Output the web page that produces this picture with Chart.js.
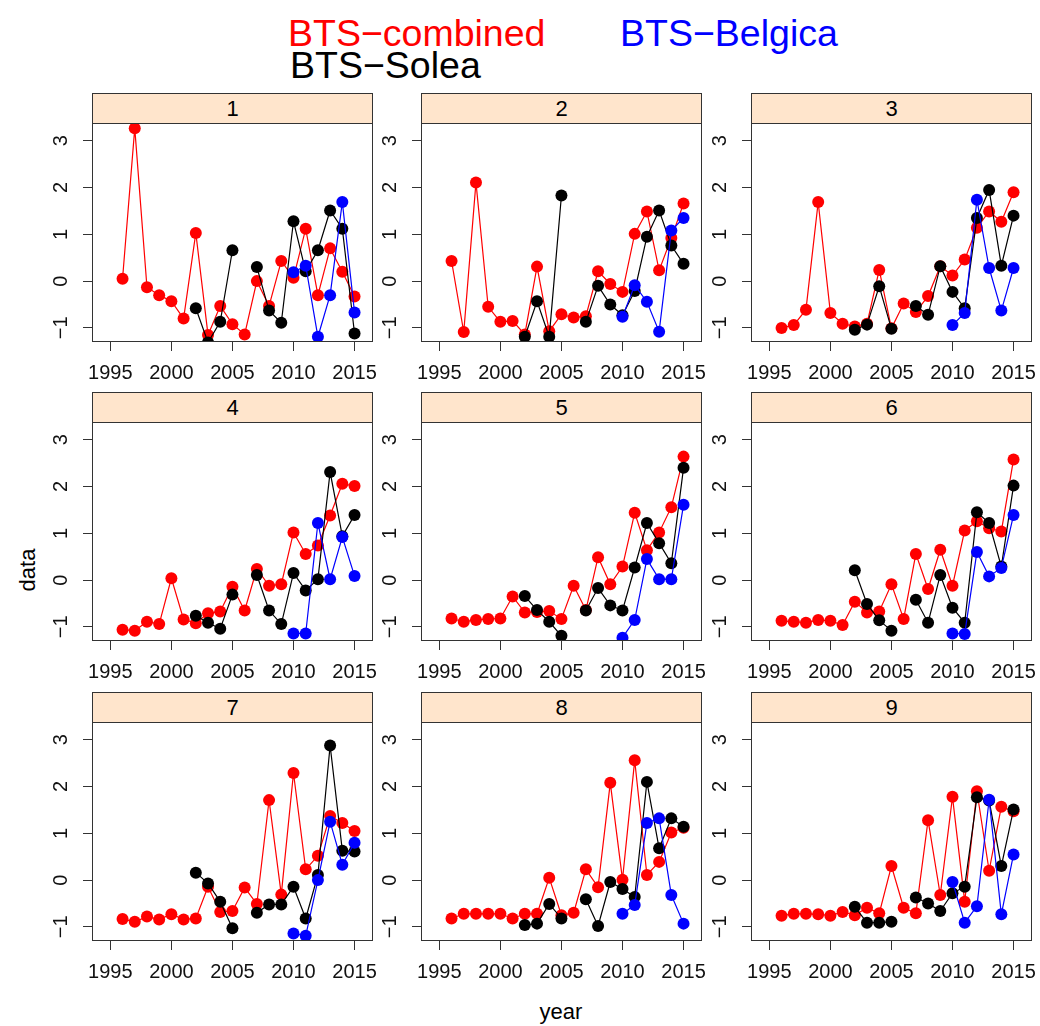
<!DOCTYPE html>
<html>
<head>
<meta charset="utf-8">
<script src="https://cdn.jsdelivr.net/npm/chart.js@4.4.1/dist/chart.umd.min.js"></script>
<style>
  html, body { margin: 0; padding: 0; background: #ffffff; }
  body { width: 1040px; height: 1026px; position: relative; overflow: hidden;
         font-family: "Liberation Sans", Arial, sans-serif; }
  .leg { position: absolute; font-size: 37.5px; line-height: 37px; white-space: nowrap; }
  .strip { position: absolute; box-sizing: border-box; background: #ffe5cc;
           border: 1px solid #333; font-size: 22px; color: #000;
           display: flex; align-items: center; justify-content: center; }
  .axt { position: absolute; font-size: 22px; color: #000; white-space: nowrap; }
  canvas { position: absolute; }
</style>
</head>
<body>
<script>
// Survey areas, one panel each
const areas = ['1', '2', '3', '4', '5', '6', '7', '8', '9'];

// Years covered by each survey series
const years = [1996, 1997, 1998, 1999, 2000, 2001, 2002, 2003, 2004, 2005,
               2006, 2007, 2008, 2009, 2010, 2011, 2012, 2013, 2014, 2015];
const soleaYears = [2002, 2003, 2004, 2005, 2006, 2007, 2008, 2009, 2010, 2011, 2012, 2013, 2014, 2015];
const belgicaYears = [2010, 2011, 2012, 2013, 2014, 2015];

// BTS-combined index per area (1996-2015)
const combined = [
  [0.05, 3.27, -0.13, -0.30, -0.43, -0.80, 1.03, -1.15, -0.53, -0.92, -1.14, 0.00, -0.53, 0.43, 0.07, 1.12, -0.30, 0.70, 0.20, -0.33],
  [0.43, -1.09, 2.11, -0.55, -0.87, -0.85, -1.14, 0.31, -1.07, -0.71, -0.78, -0.75, 0.21, -0.06, -0.23, 1.01, 1.49, 0.23, 0.92, 1.66],
  [-1.00, -0.94, -0.61, 1.69, -0.68, -0.91, -0.97, -0.91, 0.24, -1.01, -0.48, -0.66, -0.32, 0.32, 0.12, 0.46, 1.14, 1.49, 1.27, 1.90],
  [-1.06, -1.08, -0.89, -0.94, 0.04, -0.84, -0.92, -0.71, -0.67, -0.14, -0.65, 0.24, -0.12, -0.09, 1.02, 0.56, 0.74, 1.38, 2.06, 2.01],
  [-0.82, -0.89, -0.85, -0.83, -0.82, -0.35, -0.69, -0.68, -0.66, -0.83, -0.12, -0.64, 0.49, -0.09, 0.29, 1.44, 0.64, 1.02, 1.56, 2.64],
  [-0.87, -0.89, -0.91, -0.85, -0.87, -0.96, -0.46, -0.69, -0.67, -0.09, -0.83, 0.56, -0.19, 0.65, -0.12, 1.06, 1.26, 1.11, 1.04, 2.58],
  [-0.83, -0.89, -0.78, -0.84, -0.73, -0.84, -0.82, -0.14, -0.68, -0.66, -0.16, -0.51, 1.71, -0.31, 2.29, 0.23, 0.52, 1.37, 1.22, 1.05],
  [-0.82, -0.72, -0.72, -0.72, -0.72, -0.82, -0.72, -0.72, 0.05, -0.75, -0.70, 0.23, -0.15, 2.08, 0.01, 2.56, 0.11, 0.39, 1.02, 1.12],
  [-0.76, -0.72, -0.72, -0.73, -0.76, -0.68, -0.75, -0.59, -0.71, 0.30, -0.59, -0.71, 1.28, -0.32, 1.78, -0.46, 1.90, 0.20, 1.57, 1.47]
];

// BTS-Solea index per area (2002-2015, no survey in 2006)
const solea = [
  [-0.58, -1.31, -0.87, 0.66, null, 0.30, -0.63, -0.89, 1.28, 0.21, 0.66, 1.51, 1.12, -1.12],
  [-1.19, -0.43, -1.19, 1.83, null, -0.87, -0.10, -0.50, -0.73, -0.21, 0.95, 1.51, 0.76, 0.37],
  [-1.04, -0.93, -0.11, -1.02, null, -0.53, -0.72, 0.32, -0.23, -0.58, 1.35, 1.95, 0.33, 1.40],
  [-0.76, -0.91, -1.04, -0.31, null, 0.11, -0.65, -0.94, 0.15, -0.22, 0.02, 2.31, 0.94, 1.39],
  [-0.34, -0.64, -0.89, -1.19, null, -0.65, -0.17, -0.54, -0.65, 0.27, 1.22, 0.79, 0.36, 2.40],
  [0.21, -0.51, -0.86, -1.08, null, -0.42, -0.91, 0.11, -0.59, -0.91, 1.45, 1.22, 0.29, 2.02],
  [0.16, -0.07, -0.46, -1.03, null, -0.70, -0.52, -0.52, -0.14, -0.82, 0.11, 2.88, 0.63, 0.61],
  [-0.96, -0.93, -0.51, -0.82, null, -0.41, -0.98, -0.04, -0.19, -0.36, 2.10, 0.68, 1.32, 1.14],
  [-0.57, -0.91, -0.91, -0.89, null, -0.37, -0.50, -0.66, -0.28, -0.14, 1.77, 1.70, 0.30, 1.51]
];

// BTS-Belgica index per area (2010-2015)
const belgica = [
  [0.19, 0.33, -1.19, -0.30, 1.69, -0.67],
  [-0.76, -0.09, -0.44, -1.08, 1.08, 1.35],
  [-0.94, -0.68, 1.74, 0.28, -0.63, 0.28],
  [-1.14, -1.14, 1.22, 0.02, 0.92, 0.09],
  [-1.23, -0.85, 0.45, 0.02, 0.02, 1.61],
  [-1.14, -1.15, 0.60, 0.08, 0.26, 1.39],
  [-1.14, -1.19, 0.00, 1.25, 0.33, 0.80],
  [-0.72, -0.53, 1.22, 1.32, -0.32, -0.93],
  [-0.04, -0.91, -0.56, 1.72, -0.73, 0.55]
];

// Tick labels
const xTickValues = [1995, 2000, 2005, 2010, 2015];
const yTickValues = [-1, 0, 1, 2, 3];

// Series names and colours
const seriesNames = ['BTS\u2212combined', 'BTS\u2212Belgica', 'BTS\u2212Solea'];
const seriesColors = ['#ff0000', '#0000ff', '#000000'];

// ---- page layout ----
const colLeft = [93, 422, 752];
const rowTop = [123, 422, 722];
const plotW = 279, plotH = 218, stripH = 30;
const padL = 70, padT = 10, padR = 30, padB = 55;
const lineCol = '#333333';
const fontFamily = '"Liberation Sans", Arial, sans-serif';

function addText(cls, text, css) {
  const d = document.createElement('div');
  d.className = cls;
  d.textContent = text;
  Object.assign(d.style, css);
  document.body.appendChild(d);
  return d;
}

// Key above the panels
addText('leg', seriesNames[0], { left: '288px', top: '15px', color: seriesColors[0] });
addText('leg', seriesNames[1], { left: '620px', top: '15px', color: seriesColors[1] });
addText('leg', seriesNames[2], { left: '290px', top: '47px', color: seriesColors[2] });

// Shared axis titles
addText('axt', 'data', { left: '28px', top: '570px', transform: 'translate(-50%,-50%) rotate(-90deg)' });
addText('axt', 'year', { left: '561px', top: '1012px', transform: 'translate(-50%,-50%)' });

// Border round each plotting region
const framePlugin = {
  id: 'frame',
  afterDraw(chart) {
    const a = chart.chartArea, c = chart.ctx;
    c.save();
    c.strokeStyle = lineCol;
    c.lineWidth = 1;
    c.strokeRect(a.left - 0.5, a.top - 0.5, a.right - a.left + 1, a.bottom - a.top + 1);
    c.restore();
  }
};

function fmtMinus(v) { return v < 0 ? '\u2212' + Math.abs(v) : String(v); }

// Fix an axis' thickness and drop the label overhang padding so every panel lines up
function fixAxis(size, horizontal) {
  return s => {
    if (horizontal) s.height = size; else s.width = size;
    s.paddingTop = 0; s.paddingBottom = 0; s.paddingLeft = 0; s.paddingRight = 0;
  };
}

function series(xs, ys, label, color) {
  return {
    label: label,
    data: xs.map((x, j) => ({ x: x, y: ys[j] })),
    borderColor: color,
    backgroundColor: color,
    borderWidth: 1.2,
    pointRadius: 6,
    pointHoverRadius: 6,
    pointBorderWidth: 0,
    pointBackgroundColor: color,
    spanGaps: false,
    tension: 0,
    clip: 0
  };
}

areas.forEach((name, i) => {
  const col = i % 3, row = Math.floor(i / 3);
  const left = colLeft[col], top = rowTop[row];

  const cv = document.createElement('canvas');
  cv.width = padL + plotW + padR;
  cv.height = padT + plotH + padB;
  cv.style.left = (left - padL) + 'px';
  cv.style.top = (top - padT) + 'px';
  cv.style.width = cv.width + 'px';
  cv.style.height = cv.height + 'px';
  document.body.appendChild(cv);

  addText('strip', name, {
    left: (left - 1) + 'px', top: (top - stripH) + 'px',
    width: (plotW + 2) + 'px', height: (stripH + 1) + 'px'
  });

  new Chart(cv, {
    type: 'line',
    data: {
      // Belgica first so it sits on top, combined last so it sits underneath
      datasets: [
        series(belgicaYears, belgica[i], seriesNames[1], seriesColors[1]),
        series(soleaYears, solea[i], seriesNames[2], seriesColors[2]),
        series(years, combined[i], seriesNames[0], seriesColors[0])
      ]
    },
    options: {
      responsive: false,
      animation: false,
      events: [],
      layout: { padding: { left: 0, top: padT, right: padR, bottom: 0 } },
      plugins: { legend: { display: false }, tooltip: { enabled: false } },
      scales: {
        x: {
          type: 'linear',
          min: 1993.58,
          max: 2016.43,
          afterBuildTicks: s => { s.ticks = xTickValues.map(v => ({ value: v })); },
          afterFit: fixAxis(padB, true),
          border: { display: false },
          grid: { drawOnChartArea: false, drawTicks: true, tickLength: 10, color: lineCol, lineWidth: 1 },
          ticks: {
            autoSkip: false, maxRotation: 0, minRotation: 0, padding: 10,
            color: '#111', font: { family: fontFamily, size: 20 },
            callback: v => String(v)
          }
        },
        y: {
          type: 'linear',
          min: -1.28,
          max: 3.38,
          afterBuildTicks: s => { s.ticks = yTickValues.map(v => ({ value: v })); },
          afterFit: fixAxis(padL, false),
          border: { display: false },
          grid: { drawOnChartArea: false, drawTicks: true, tickLength: 10, color: lineCol, lineWidth: 1 },
          ticks: {
            autoSkip: false, minRotation: 90, maxRotation: 90, crossAlign: 'center', padding: 10,
            color: '#111', font: { family: fontFamily, size: 20 },
            callback: v => fmtMinus(v)
          }
        }
      }
    },
    plugins: [framePlugin]
  });
});
</script>
</body>
</html>
